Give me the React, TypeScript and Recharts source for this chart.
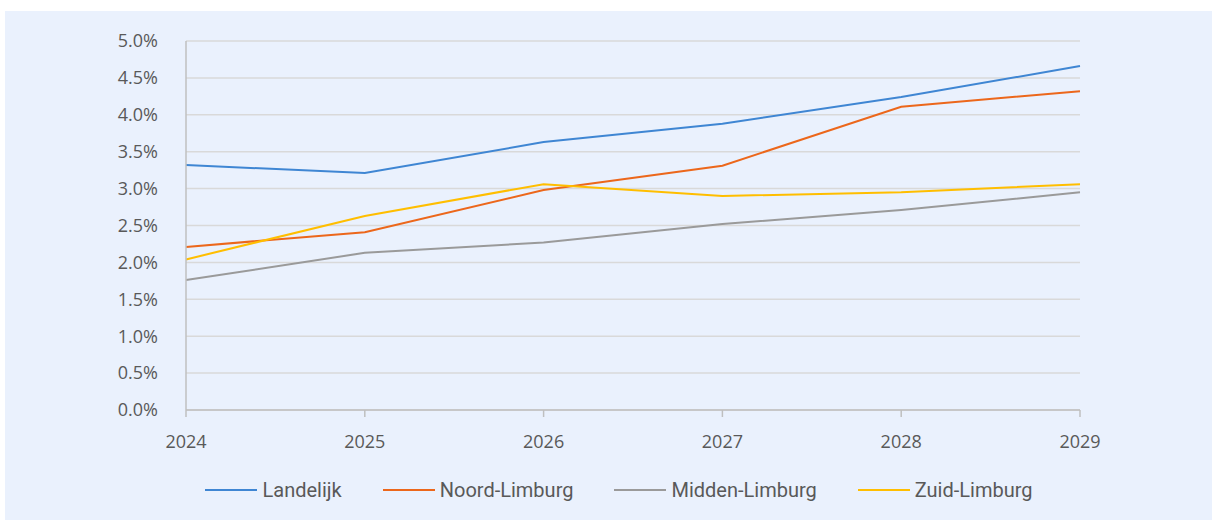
import React from "react";
import { LineChart, Line, XAxis, YAxis, CartesianGrid, Legend } from "recharts";

const years = ["2024", "2025", "2026", "2027", "2028", "2029"];
const landelijk = [3.32, 3.21, 3.63, 3.88, 4.24, 4.66];
const noordLimburg = [2.21, 2.41, 2.98, 3.31, 4.11, 4.32];
const middenLimburg = [1.76, 2.13, 2.27, 2.52, 2.71, 2.95];
const zuidLimburg = [2.04, 2.63, 3.06, 2.9, 2.95, 3.06];
const yTicks = [0, 0.5, 1, 1.5, 2, 2.5, 3, 3.5, 4, 4.5, 5];

const series = [
  { key: "landelijk", name: "Landelijk", color: "#3F86D3" },
  { key: "noord", name: "Noord-Limburg", color: "#EC671B" },
  { key: "midden", name: "Midden-Limburg", color: "#9A9A9A" },
  { key: "zuid", name: "Zuid-Limburg", color: "#FFBE00" },
];

const data = years.map((year, i) => ({
  year,
  landelijk: landelijk[i],
  noord: noordLimburg[i],
  midden: middenLimburg[i],
  zuid: zuidLimburg[i],
}));

const tickFont = { fontSize: 18, fill: "#595959", fontFamily: "'Open Sans', sans-serif" };

function LegendContent() {
  return (
    <div style={{ display: "flex", justifyContent: "center", gap: 41, paddingLeft: 153 }}>
      {series.map((s) => (
        <div key={s.key} style={{ display: "flex", alignItems: "center" }}>
          <svg width={52} height={4} style={{ marginRight: 5 }}>
            <line x1={0} y1={2} x2={52} y2={2} stroke={s.color} strokeWidth={2} />
          </svg>
          <span
            style={{
              fontSize: 20,
              color: "#595959",
              fontFamily: "Roboto, sans-serif",
            }}
          >
            {s.name}
          </span>
        </div>
      ))}
    </div>
  );
}

export default function App() {
  return (
    <div
      style={{
        position: "absolute",
        left: 5,
        top: 11,
        width: 1207,
        height: 509,
        background: "#EAF1FD",
      }}
    >
      <LineChart width={1207} height={509} data={data} margin={{ top: 30, right: 132, bottom: 14, left: 0 }}>
        <CartesianGrid vertical={false} stroke="#D9D9D9" strokeWidth={1.5} />
        <XAxis
          dataKey="year"
          interval={0}
          tick={tickFont}
          tickLine={{ stroke: "#BFBFBF", strokeWidth: 1.5 }}
          axisLine={{ stroke: "#BFBFBF", strokeWidth: 1.5 }}
          tickSize={7}
          tickMargin={18}
          height={68}
          padding={{ left: 0, right: 0 }}
        />
        <YAxis
          domain={[0, 5]}
          ticks={yTicks}
          tickFormatter={(v: number) => `${v.toFixed(1)}%`}
          tick={tickFont}
          tickLine={false}
          axisLine={{ stroke: "#BFBFBF", strokeWidth: 1.5 }}
          tickMargin={22}
          width={181}
        />
        <Legend verticalAlign="bottom" height={28} content={<LegendContent />} />
        {series.map((s) => (
          <Line
            key={s.key}
            dataKey={s.key}
            name={s.name}
            type="linear"
            stroke={s.color}
            strokeWidth={2}
            dot={false}
            activeDot={false}
            isAnimationActive={false}
          />
        ))}
      </LineChart>
    </div>
  );
}
